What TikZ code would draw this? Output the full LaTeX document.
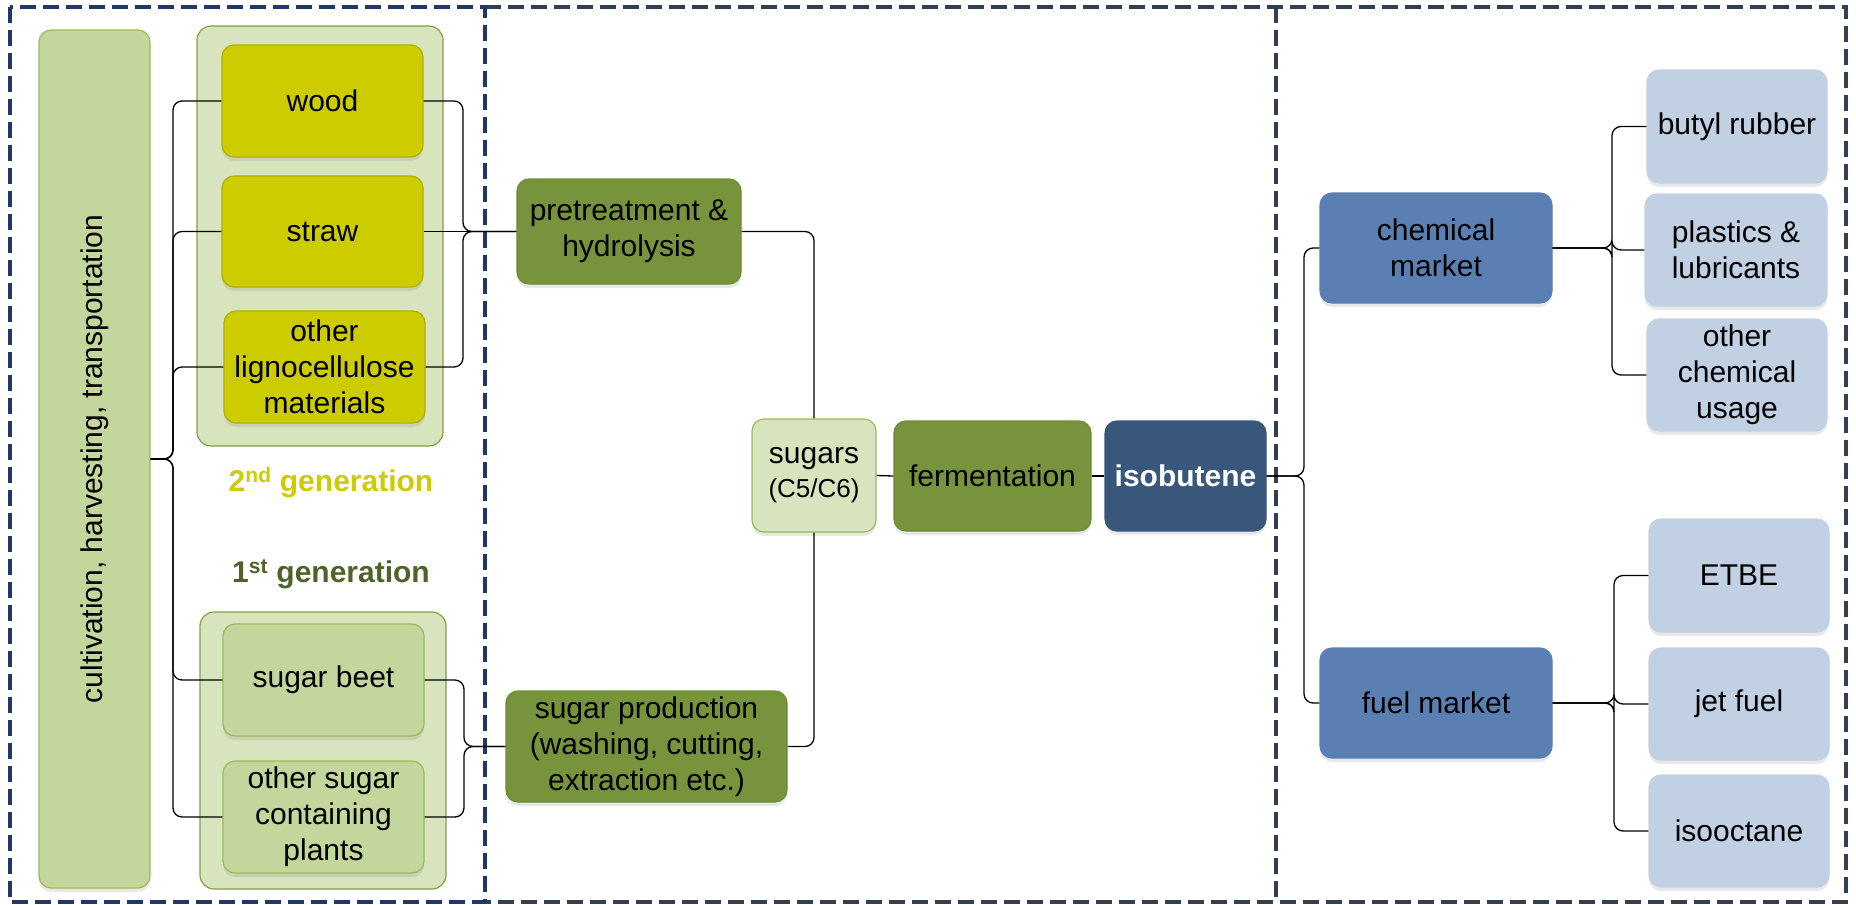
\documentclass[tikz,border=0pt]{standalone}
\usepackage{fontspec}
\setmainfont{Liberation Sans}
\usetikzlibrary{shadows}
\definecolor{navyL}{HTML}{1F3864}
\definecolor{slateD}{HTML}{333F50}
\definecolor{oliveD}{HTML}{77933C}
\definecolor{oliveB}{HTML}{6E8B36}
\definecolor{yel}{HTML}{CCCC00}
\definecolor{yelB}{HTML}{B0B000}
\definecolor{lgreen}{HTML}{C3D69B}
\definecolor{pgreen}{HTML}{D7E4BD}
\definecolor{greenB}{HTML}{9BBB59}
\definecolor{gen1col}{HTML}{4F6228}
\definecolor{isob}{HTML}{38577A}
\definecolor{market}{HTML}{5A7FB2}
\definecolor{leaf}{HTML}{C1D0E3}
\tikzset{
  box/.style={rounded corners=12pt, line width=1.2pt, align=center, inner sep=2pt,
    font=\fontsize{30}{36}\selectfont, text=black,
    drop shadow={opacity=0.18, shadow xshift=0pt, shadow yshift=-4pt}},
  outerbox/.style={rounded corners=14pt, line width=1.2pt, fill=pgreen, draw=greenB!85!black},
  yelbox/.style={box, fill=yel, draw=yelB},
  lgbox/.style={box, fill=lgreen, draw=greenB},
  olbox/.style={box, fill=oliveD, draw=oliveB},
  mkbox/.style={box, fill=market, draw=market},
  leafbox/.style={box, fill=leaf, draw=leaf},
  conn/.style={line width=1.3pt, rounded corners=9pt, black},
  frameL/.style={line width=4pt, dash pattern=on 16pt off 7pt, draw=navyL},
  frameR/.style={line width=4pt, dash pattern=on 16pt off 7pt, draw=slateD},
  genlabel/.style={font=\bfseries\fontsize{30}{36}\selectfont}
}
\begin{document}
\begin{tikzpicture}[x=1pt,y=-1pt]
\useasboundingbox (0,0) rectangle (1856,905);
% frames
\draw[frameR] (485,7) -- (1846,7) -- (1846,902) -- (485,902);
\draw[frameR] (1276,7) -- (1276,902);
\draw[frameL] (10,7) rectangle (485,902);

% outer group boxes
\node[outerbox, minimum width=246pt, minimum height=420pt] (gen2box) at (320,236) {};
\node[outerbox, minimum width=246pt, minimum height=277pt] (gen1box) at (323,750.5) {};

% nodes
\node[lgbox, rotate=90, minimum width=858pt, minimum height=111pt] (cult) at (94.5,459) {cultivation, harvesting, transportation};
\node[yelbox, minimum width=201pt, minimum height=112pt] (wood) at (322.5,101) {wood};
\node[yelbox, minimum width=201pt, minimum height=111pt] (straw) at (322.5,231.5) {straw};
\node[yelbox, minimum width=201pt, minimum height=112pt] (ligno) at (324.5,367) {other\\lignocellulose\\materials};
\node[lgbox, minimum width=201pt, minimum height=112pt] (beet) at (323.5,680) {sugar beet};
\node[lgbox, minimum width=201pt, minimum height=112pt] (osugar) at (323.5,817) {other sugar\\containing\\plants};

\node[genlabel, text=yel] (gen2lab) at (331,483) {2\textsuperscript{nd} generation};
\node[genlabel, text=gen1col] (gen1lab) at (331,574) {1\textsuperscript{st} generation};

\node[olbox, minimum width=224pt, minimum height=105pt] (pretreat) at (629,231.5) {pretreatment \&\\hydrolysis};
\node[olbox, minimum width=281pt, minimum height=111pt] (sugprod) at (646.5,746.5) {sugar production\\(washing, cutting,\\extraction etc.)};
\node[box, fill=pgreen, draw=greenB, minimum width=124pt, minimum height=113pt] (sugars) at (814,475.5) {sugars\\[-2pt]{\fontsize{26}{30}\selectfont (C5/C6)}};
\node[olbox, minimum width=197pt, minimum height=110pt] (ferm) at (992.5,476) {fermentation};
\node[box, fill=isob, draw=isob, text=white, font=\bfseries\fontsize{30}{36}\selectfont, minimum width=161pt, minimum height=110pt] (isobut) at (1185.5,476) {isobutene};

\node[mkbox, minimum width=232pt, minimum height=110pt] (chem) at (1436,248) {chemical\\market};
\node[mkbox, minimum width=232pt, minimum height=110pt] (fuel) at (1436,703) {fuel market};

\node[leafbox, minimum width=180pt, minimum height=113pt] (butyl) at (1737,126.5) {butyl rubber};
\node[leafbox, minimum width=182pt, minimum height=112pt] (plast) at (1736,250) {plastics \&\\lubricants};
\node[leafbox, minimum width=180pt, minimum height=112pt] (ochem) at (1737,375) {other\\chemical\\usage};
\node[leafbox, minimum width=180pt, minimum height=113pt] (etbe) at (1739,575.5) {ETBE};
\node[leafbox, minimum width=180pt, minimum height=112pt] (jet) at (1739,704) {jet fuel};
\node[leafbox, minimum width=180pt, minimum height=112pt] (isooct) at (1739,831) {isooctane};

% bus coordinates
\coordinate (busL) at (173,459);
\coordinate (busA) at (463,231.5);
\coordinate (busB) at (464,746.5);
\coordinate (busC) at (1304,476);
\coordinate (busD) at (1612,248);
\coordinate (busE) at (1614,703);

% connectors
\foreach \t in {wood,straw,ligno,beet,osugar}
  \draw[conn] (cult.south) -- (busL) |- (\t.west);
\draw[conn] (wood.east) -| (busA) -- (pretreat.west);
\draw[conn] (straw.east) -- (pretreat.west);
\draw[conn] (ligno.east) -| (busA) -- (pretreat.west);
\draw[conn] (beet.east) -| (busB) -- (sugprod.west);
\draw[conn] (osugar.east) -| (busB) -- (sugprod.west);
\draw[conn] (pretreat.east) -| (sugars.north);
\draw[conn] (sugprod.east) -| (sugars.south);
\draw[conn] (sugars.east) -- (ferm.west);
\draw[conn] (ferm.east) -- (isobut.west);
\foreach \t in {chem,fuel}
  \draw[conn] (isobut.east) -- (busC) |- (\t.west);
\foreach \t in {butyl,plast,ochem}
  \draw[conn] (chem.east) -- (busD) |- (\t.west);
\foreach \t in {etbe,jet,isooct}
  \draw[conn] (fuel.east) -- (busE) |- (\t.west);
\end{tikzpicture}
\end{document}
